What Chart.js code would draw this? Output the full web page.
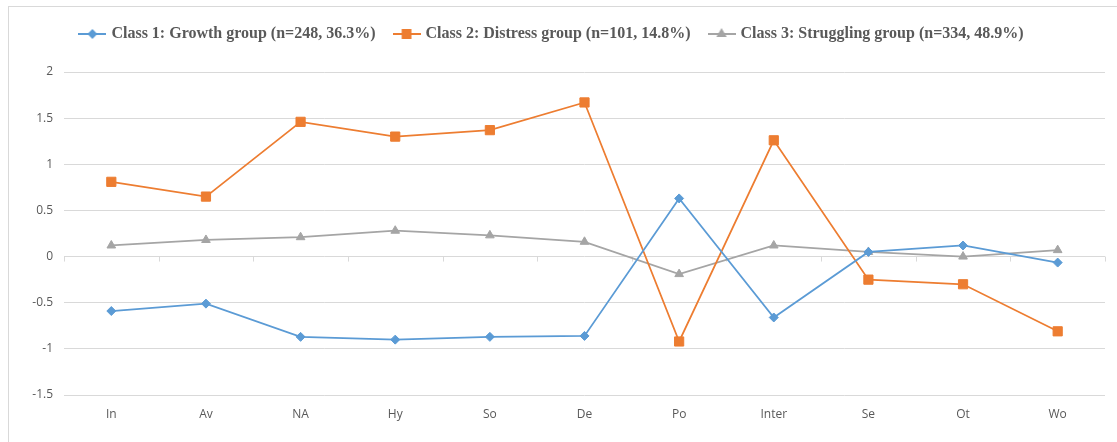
<!DOCTYPE html>
<html>
<head>
<meta charset="utf-8">
<script src="https://cdn.jsdelivr.net/npm/chart.js@4/dist/chart.umd.min.js"></script>
<style>
  html, body { margin: 0; padding: 0; background: #fff; }
  #wrap { position: relative; width: 1117px; height: 442px; overflow: hidden; }
  #frame { position: absolute; left: 8px; top: 6px; width: 1200px; height: 500px;
           border: 1px solid #d9d9d9; box-sizing: border-box; pointer-events: none; }
  canvas { position: absolute; left: 0; top: 0; }
</style>
</head>
<body>
<div id="wrap">
  <canvas id="profile-chart" width="1117" height="442"></canvas>
  <div id="frame"></div>
</div>
<script>
const categories = ['In', 'Av', 'NA', 'Hy', 'So', 'De', 'Po', 'Inter', 'Se', 'Ot', 'Wo'];
const seriesNames = [
  'Class 1: Growth group (n=248, 36.3%)',
  'Class 2: Distress group (n=101, 14.8%)',
  'Class 3: Struggling group (n=334, 48.9%)'
];
const growth = [-0.59, -0.51, -0.87, -0.90, -0.87, -0.86, 0.63, -0.66, 0.05, 0.12, -0.065];
const distress = [0.81, 0.65, 1.46, 1.30, 1.37, 1.67, -0.92, 1.26, -0.25, -0.30, -0.81];
const struggling = [0.12, 0.18, 0.21, 0.28, 0.23, 0.16, -0.19, 0.12, 0.05, 0.00, 0.07];
const yTicks = [2, 1.5, 1, 0.5, 0, -0.5, -1, -1.5];

const colors = ['#5B9BD5', '#ED7D31', '#A5A5A5'];
const styles = ['rectRot', 'rect', 'triangle'];
const radii = [4.5, 6.5, 5];

// legend icon: short line with the marker in the middle
function legendIcon(color, style, r) {
  const c = document.createElement('canvas');
  c.width = 28; c.height = 14;
  const g = c.getContext('2d');
  g.strokeStyle = color; g.fillStyle = color; g.lineWidth = 2;
  g.beginPath(); g.moveTo(0, 7); g.lineTo(28, 7); g.stroke();
  Chart.helpers.drawPoint(g, { pointStyle: style, radius: r - 1, borderWidth: 1 }, 14, 7);
  g.fill();
  return c;
}

// more room under the legend
const legendGap = {
  id: 'legendGap',
  beforeInit(chart) {
    const fit = chart.legend.fit;
    chart.legend.fit = function () {
      fit.bind(chart.legend)();
      this.height += 20;
    };
  }
};

// small tick marks on the zero line between categories
const zeroTicks = {
  id: 'zeroTicks',
  beforeDatasetsDraw(chart) {
    const x = chart.scales.x, y = chart.scales.y;
    const y0 = y.getPixelForValue(0);
    const ctx = chart.ctx;
    ctx.save();
    ctx.strokeStyle = '#d9d9d9';
    ctx.lineWidth = 1;
    ctx.beginPath();
    for (let i = 0; i <= categories.length; i++) {
      const px = Math.round(x.getPixelForValue(i - 0.5)) + 0.5;
      ctx.moveTo(px, y0);
      ctx.lineTo(px, y0 + 5);
    }
    ctx.stroke();
    ctx.restore();
  }
};

const ctx = document.getElementById('profile-chart');
const sets = [growth, distress, struggling].map((d, i) => ({
  label: seriesNames[i],
  data: d,
  borderColor: colors[i],
  backgroundColor: colors[i],
  borderWidth: 1.75,
  pointStyle: styles[i],
  pointRadius: radii[i],
  pointHoverRadius: radii[i],
  pointBorderWidth: 1,
  tension: 0
}));

new Chart(ctx, {
  type: 'line',
  data: { labels: categories, datasets: sets },
  plugins: [legendGap, zeroTicks],
  options: {
    responsive: false,
    animation: false,
    layout: { padding: { left: 0, right: 12, top: 6, bottom: 0 } },
    plugins: {
      tooltip: { enabled: false },
      legend: {
        position: 'top',
        labels: {
          usePointStyle: true,
          pointStyleWidth: 22,
          padding: 20,
          color: '#595959',
          font: { family: '"Liberation Serif", "Times New Roman", serif', size: 16, weight: 'bold' },
          generateLabels(chart) {
            return chart.data.datasets.map((ds, i) => ({
              text: ds.label,
              fontColor: '#595959',
              fillStyle: colors[i],
              strokeStyle: colors[i],
              lineWidth: 0,
              pointStyle: legendIcon(colors[i], styles[i], radii[i]),
              datasetIndex: i,
              hidden: false
            }));
          }
        }
      }
    },
    scales: {
      x: {
        offset: true,
        grid: { display: false },
        border: { display: false },
        ticks: {
          color: '#595959',
          padding: 4,
          font: { family: '"Open Sans", "Liberation Sans", sans-serif', size: 12 }
        },
        afterFit(scale) { scale.height = 47; }
      },
      y: {
        min: -1.5,
        max: 2,
        afterBuildTicks(scale) { scale.ticks = yTicks.map(v => ({ value: v })); },
        grid: { color: '#d9d9d9', lineWidth: 1, drawTicks: false },
        border: { display: false },
        ticks: {
          color: '#595959',
          padding: 11,
          font: { family: '"Open Sans", "Liberation Sans", sans-serif', size: 12 },
          callback: v => String(v)
        },
        afterFit(scale) { scale.width = 64; }
      }
    }
  }
});
</script>
</body>
</html>
